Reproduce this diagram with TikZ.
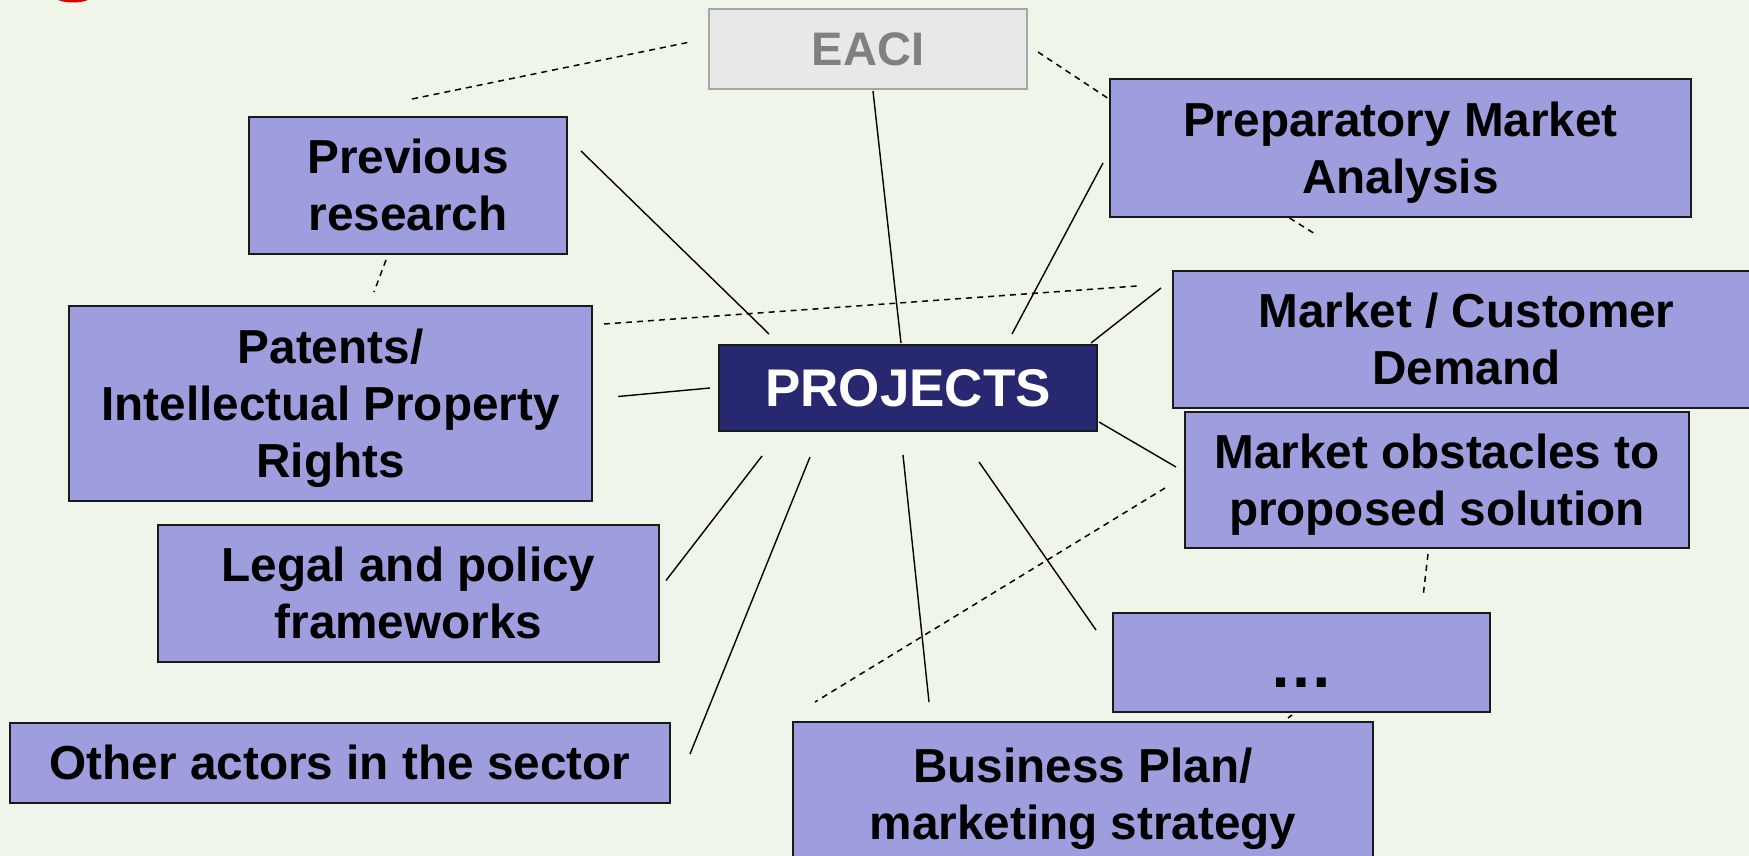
\documentclass[tikz,border=0pt]{standalone}
\usepackage{fontspec}
\setmainfont{Liberation Sans}
\usetikzlibrary{calc}
\definecolor{bg}{RGB}{240,245,234}
\definecolor{boxfill}{RGB}{158,158,222}
\definecolor{projfill}{RGB}{40,40,112}
\definecolor{eacifill}{RGB}{232,232,232}
\definecolor{eaciborder}{RGB}{165,165,165}
\definecolor{eacitext}{RGB}{128,128,128}
\definecolor{edge}{RGB}{26,26,26}
\definecolor{logored}{RGB}{220,0,0}
\newcommand\mytopstrut{\rule{0pt}{43.2pt}}
\newcommand\mybotstrut{\rule[-10.1pt]{0pt}{10.1pt}}
\tikzset{
  box/.style={draw=edge, fill=boxfill, line width=2pt, inner sep=0pt, align=center,
    font=\fontsize{47.7}{57}\selectfont\bfseries, text=black},
  projbox/.style={box, fill=projfill, text=white, font=\fontsize{53}{60}\selectfont\bfseries},
  eacibox/.style={box, draw=eaciborder, fill=eacifill, text=eacitext, font=\fontsize{47}{56}\selectfont\bfseries},
  link/.style={draw=black, line width=1.4pt},
  dlink/.style={draw=black, line width=1.5pt, dash pattern=on 6pt off 5pt},
}
\begin{document}
\begin{tikzpicture}[x=1pt, y=-1pt]
\fill[bg] (0,0) rectangle (1749,856);
\useasboundingbox (0,0) rectangle (1749,856);
\draw[logored, line width=3pt] (73,-5) ellipse [x radius=18, y radius=6];

\node[eacibox, minimum width=318, minimum height=80] (eaci) at (868,49) {EACI};
\node[box, minimum width=318, minimum height=137] (prev) at (408,185.5) {\mytopstrut Previous\\research\mybotstrut};
\node[box, minimum width=581, minimum height=138] (prep) at (1400.5,148) {\mytopstrut Preparatory Market\\Analysis\mybotstrut};
\node[box, minimum width=523, minimum height=195] (pat) at (330.5,403.5) {\mytopstrut Patents/\\Intellectual Property\\Rights\mybotstrut};
\node[projbox, minimum width=378, minimum height=86] (proj) at (908,388) {PROJECTS};
\node[box, minimum width=587, minimum height=137] (mcd) at (1466.5,339.5) {\mytopstrut Market / Customer\\Demand\mybotstrut};
\node[box, minimum width=504, minimum height=136] (obst) at (1437,480) {\mytopstrut Market obstacles to\\proposed solution\mybotstrut};
\node[box, minimum width=501, minimum height=137] (legal) at (408.5,593.5) {\mytopstrut Legal and policy\\frameworks\mybotstrut};
\node[box, minimum width=377, minimum height=99] (dots) at (1301.5,662.5) {};
\node[anchor=base, inner sep=0pt, font=\fontsize{64}{64}\selectfont\bfseries] (dotstext) at ($(dots.south)+(0,-26)$) {…};
\node[box, minimum width=660, minimum height=80] (other) at (340,763) {\mytopstrut Other actors in the sector\mybotstrut};
\node[box, minimum width=580, minimum height=144] (bp) at (1083,794) {\mytopstrut Business Plan/\\marketing strategy\mybotstrut};

% solid connectors
\draw[link] ($(prev.north east)+(13,35)$) -- ($(proj.north west)+(51,-10)$);
\draw[link] ($(eaci.south)+(5,1)$) -- ($(proj.north)+(-7,-1)$);
\draw[link] ($(prep.west)+(-6,15)$) -- ($(proj.north)+(104,-10)$);
\draw[link] ($(mcd.north west)+(-11,18)$) -- ($(proj.north east)+(-7,-1)$);
\draw[link] ($(proj.south east)+(1,-10)$) -- ($(obst.west)+(-8,-13)$);
\draw[link] ($(pat.east)+(25,-7)$) -- ($(proj.west)+(-8,0)$);
\draw[link] ($(legal.east)+(6,-13)$) -- ($(proj.south west)+(44,24)$);
\draw[link] ($(other.east)+(19,-9)$) -- ($(proj.south west)+(92,25)$);
\draw[link] ($(bp.north west)+(137,-19)$) -- ($(proj.south)+(-5,23)$);
\draw[link] ($(dots.north west)+(-16,18)$) -- ($(proj.south)+(71,30)$);

% dashed connectors
\draw[dlink] ($(prev.north)+(4,-17)$) -- ($(eaci.west)+(-18,-7)$);
\draw[dlink] ($(eaci.east)+(10,3)$) -- ($(prep.north west)+(0,21)$);
\draw[dlink] ($(prep.south)+(-111,0)$) -- ($(prep.south)+(-87,15)$);
\draw[dlink] ($(prev.south)+(-22,5)$) -- ($(pat.north)+(43.5,-13)$);
\draw[dlink] ($(pat.north east)+(11,19)$) -- ($(mcd.north west)+(-35,16)$);
\draw[dlink] ($(obst.west)+(-19,8)$) -- ($(bp.north west)+(23,-19)$);
\draw[dlink] ($(obst.south)+(-9,5)$) -- ($(dots.north)+(121.5,-15)$);
\draw[dlink] ($(dots.south)+(-9.5,2)$) -- ($(bp.north)+(205,-3)$);
\end{tikzpicture}
\end{document}
